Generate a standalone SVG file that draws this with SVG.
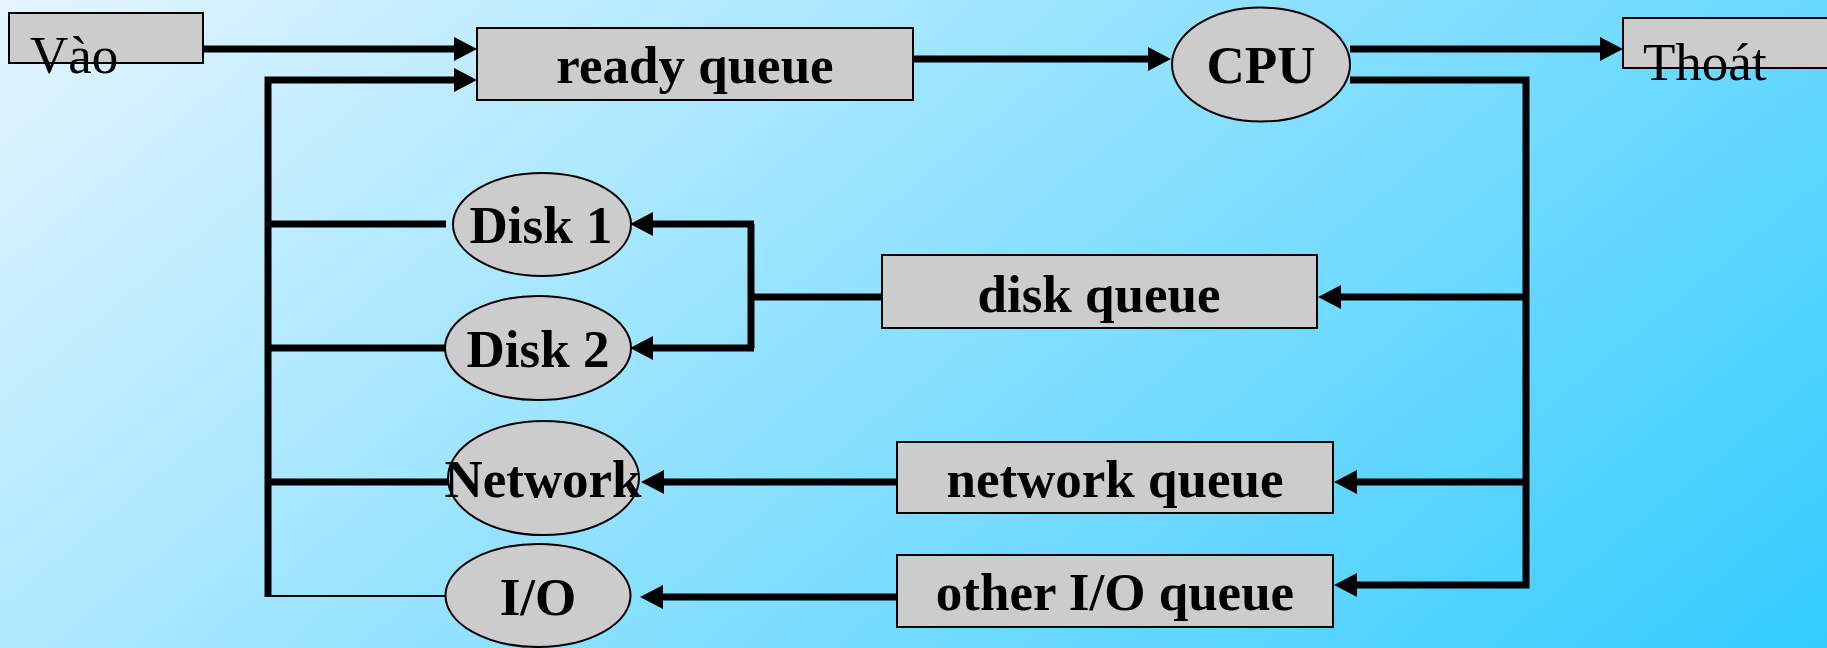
<svg xmlns="http://www.w3.org/2000/svg" width="1827" height="648" viewBox="0 0 1827 648">
  <defs>
    <linearGradient id="bg" gradientUnits="userSpaceOnUse" x1="0" y1="0" x2="1061" y2="1282">
      <stop offset="0" stop-color="#e4f5ff"/>
      <stop offset="1" stop-color="#33ccff"/>
    </linearGradient>
    <marker id="arr" markerUnits="userSpaceOnUse" markerWidth="24" markerHeight="24" refX="2" refY="12" orient="auto" overflow="visible">
      <path d="M0,0 L23,12 L0,24 z" fill="#000"/>
    </marker>
    <style>
      .box { fill: #cccccc; stroke: #000; stroke-width: 2; }
      .lbl { font-family: "Liberation Serif", "Times New Roman", serif; font-size: 53px; font-weight: bold; fill: #000; text-anchor: middle; }
      .plain { font-family: "Liberation Serif", "Times New Roman", serif; font-size: 53px; fill: #000; }
      .wire { fill: none; stroke: #000; stroke-width: 7; stroke-linejoin: miter; }
      .arrow { marker-end: url(#arr); }
      .thin { fill: none; stroke: #000; stroke-width: 2; }
    </style>
  </defs>

  <rect x="0" y="0" width="1827" height="648" fill="url(#bg)"/>

  <g id="connectors">
    <path class="wire arrow" d="M203,49 H456"/>
    <path class="wire arrow" d="M268,597 V80 H456"/>
    <path class="wire arrow" d="M913,59 H1150"/>
    <path class="wire arrow" d="M1350,49 H1602"/>
    <path class="wire arrow" d="M1350,80 H1526 V585 H1355"/>
    <path class="wire arrow" d="M1526,297 H1339"/>
    <path class="wire arrow" d="M1526,482 H1355"/>
    <path class="wire" d="M882,297 H751"/>
    <path class="wire" d="M751,224 V348"/>
    <path class="wire arrow" d="M754,224 H651"/>
    <path class="wire arrow" d="M754,348 H651"/>
    <path class="wire arrow" d="M897,482 H662"/>
    <path class="wire arrow" d="M897,597 H661"/>
    <path class="wire" d="M268,224 H446"/>
    <path class="wire" d="M268,348 H446"/>
    <path class="wire" d="M268,482 H448"/>
    <path class="thin" d="M268,596 H446"/>
  </g>

  <g id="vao">
    <rect class="box" x="9" y="13" width="194" height="50"/>
    <text class="plain" x="30" y="73">Vào</text>
  </g>
  <g id="ready-queue">
    <rect class="box" x="477" y="28" width="436" height="72"/>
    <text class="lbl" x="695" y="83">ready queue</text>
  </g>
  <g id="cpu">
    <ellipse class="box" cx="1261" cy="64.5" rx="89" ry="57"/>
    <text class="lbl" x="1261" y="83">CPU</text>
  </g>
  <g id="thoat">
    <rect class="box" x="1623" y="18" width="220" height="50"/>
    <text class="plain" x="1643" y="80">Thoát</text>
  </g>
  <g id="disk-queue">
    <rect class="box" x="882" y="255" width="435" height="73"/>
    <text class="lbl" x="1099" y="312">disk queue</text>
  </g>
  <g id="network-queue">
    <rect class="box" x="897" y="442" width="436" height="71"/>
    <text class="lbl" x="1115" y="497">network queue</text>
  </g>
  <g id="other-io-queue">
    <rect class="box" x="897" y="555" width="436" height="72"/>
    <text class="lbl" x="1115" y="610">other I/O queue</text>
  </g>
  <g id="disk1">
    <ellipse class="box" cx="542" cy="224.5" rx="89" ry="51.5"/>
    <text class="lbl" x="541" y="243">Disk 1</text>
  </g>
  <g id="disk2">
    <ellipse class="box" cx="538" cy="348" rx="93" ry="52"/>
    <text class="lbl" x="538" y="367">Disk 2</text>
  </g>
  <g id="network">
    <ellipse class="box" cx="543.5" cy="478" rx="95.5" ry="57"/>
    <text class="lbl" x="543" y="497">Network</text>
  </g>
  <g id="io">
    <ellipse class="box" cx="538" cy="595.5" rx="92.5" ry="51.5"/>
    <text class="lbl" x="538" y="615">I/O</text>
  </g>
</svg>
